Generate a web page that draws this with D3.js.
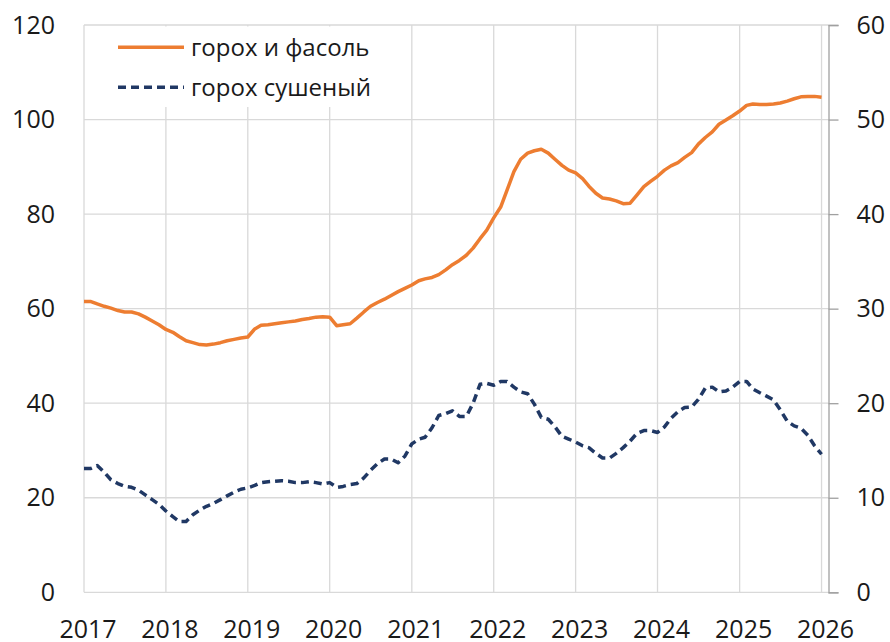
<!DOCTYPE html>
<html>
<head>
<meta charset="utf-8">
<script src="https://cdn.jsdelivr.net/npm/d3@7"></script>
<style>
  html, body { margin: 0; padding: 0; background: #fff; }
  svg { display: block; }
</style>
</head>
<body>
<svg id="chart" width="890" height="642"></svg>
<script>
// ---- DATA (monthly, Jan 2017 – Jan 2026) ----
const startMonth = "2017-01";
const seriesNames = ["горох и фасоль", "горох сушеный"];
// горох и фасоль (left axis)
const peasBeans = [
  61.5, 61.5, 61.0, 60.5, 60.1, 59.6, 59.3, 59.3, 58.9, 58.2, 57.4, 56.6,
  55.6, 55.0, 54.1, 53.2, 52.8, 52.4, 52.3, 52.5, 52.8, 53.2, 53.5, 53.8,
  54.0, 55.7, 56.5, 56.6, 56.8, 57.0, 57.2, 57.4, 57.7, 57.9, 58.2, 58.3,
  58.2, 56.4, 56.6, 56.8, 58.0, 59.3, 60.5, 61.3, 62.0, 62.8, 63.6, 64.3,
  65.0, 65.9, 66.3, 66.6, 67.2, 68.2, 69.3, 70.2, 71.3, 72.8, 74.8, 76.6,
  79.2, 81.5, 85.0, 89.0, 91.6, 92.9, 93.4, 93.7, 92.9, 91.6, 90.3, 89.3,
  88.7, 87.5, 85.9, 84.4, 83.4, 83.2, 82.8, 82.2, 82.3, 84.0, 85.8, 86.9,
  88.0, 89.3, 90.2, 90.9, 92.0, 93.0, 94.8, 96.2, 97.4, 99.0, 99.9, 100.8,
  101.8, 103.0, 103.3, 103.2, 103.2, 103.3, 103.5, 103.9, 104.4, 104.8, 104.9, 104.9,
  104.7
];
// горох сушеный (right axis)
const driedPeas = [
  13.1, 13.1, 13.4, 12.7, 11.9, 11.5, 11.2, 11.1, 10.8, 10.3, 9.8, 9.3,
  8.6, 8.0, 7.5, 7.5, 8.2, 8.7, 9.1, 9.4, 9.8, 10.2, 10.6, 10.9,
  11.05, 11.3, 11.6, 11.7, 11.75, 11.8, 11.75, 11.6, 11.6, 11.7, 11.6, 11.45,
  11.6, 11.1, 11.2, 11.4, 11.5, 12.1, 12.9, 13.6, 14.1, 14.1, 13.7, 14.4,
  15.7, 16.2, 16.4, 17.4, 18.7, 18.9, 19.2, 18.6, 18.6, 20.0, 22.0, 22.1,
  21.9, 22.3, 22.3, 21.7, 21.2, 21.0, 19.9, 18.5, 18.3, 17.5, 16.5, 16.2,
  15.9, 15.5, 15.3, 14.7, 14.2, 14.2, 14.7, 15.3, 16.0, 16.8, 17.1, 17.1,
  16.9, 17.5, 18.4, 19.1, 19.55, 19.6, 20.4, 21.6, 21.7, 21.2, 21.3, 21.7,
  22.3, 22.3, 21.5, 21.1, 20.75, 20.35, 19.3, 18.1, 17.6, 17.35, 16.6, 15.5,
  14.6
];
const yearTicks = [2017, 2018, 2019, 2020, 2021, 2022, 2023, 2024, 2025, 2026];
const leftTicks = [0, 20, 40, 60, 80, 100, 120];
const rightTicks = [0, 10, 20, 30, 40, 50, 60];

// ---- LAYOUT ----
const plot = { left: 84, right: 828.5, top: 25, bottom: 592.3 };
const ORANGE = "#ED7D31";
const NAVY = "#203864";
const GRID = "#d9d9d9";
const FONT = "'Open Sans', 'Noto Sans', sans-serif";

const svg = d3.select("#chart");

const parseMonth = d3.timeParse("%Y-%m");
const t0 = parseMonth(startMonth);
const dates = peasBeans.map((_, i) => d3.timeMonth.offset(t0, i));

const x = d3.scaleTime()
  .domain([t0, d3.timeMonth.offset(t0, 109)])
  .range([plot.left, plot.right]);
const yL = d3.scaleLinear().domain([0, 120]).range([plot.bottom, plot.top]);
const yR = d3.scaleLinear().domain([0, 60]).range([plot.bottom, plot.top]);

const yearDates = yearTicks.map(y => new Date(y, 0, 1));

// gridlines
const grid = svg.append("g");
grid.selectAll("line.h").data(leftTicks).join("line")
  .attr("x1", plot.left).attr("x2", plot.right)
  .attr("y1", d => yL(d)).attr("y2", d => yL(d))
  .attr("stroke", GRID).attr("stroke-width", 1.3);
grid.selectAll("line.v").data(yearDates).join("line")
  .attr("x1", d => x(d)).attr("x2", d => x(d))
  .attr("y1", plot.top).attr("y2", plot.bottom)
  .attr("stroke", GRID).attr("stroke-width", 1.3);

// legend background (covers gridlines)
svg.append("rect")
  .attr("x", 96).attr("y", 26.5).attr("width", 296).attr("height", 80.5)
  .attr("fill", "#fff");

// left axis
const leftAxis = d3.axisLeft(yL).tickValues(leftTicks).tickSize(0).tickPadding(29);
const gL = svg.append("g").attr("transform", `translate(${plot.left},0)`).call(leftAxis);
gL.select(".domain").remove();
gL.selectAll("text").attr("font-family", FONT).attr("font-size", 25).attr("fill", "#1a1a1a");

// right axis
const rightAxis = d3.axisRight(yR).tickValues(rightTicks).tickSize(10).tickPadding(18);
const gR = svg.append("g").attr("transform", `translate(${plot.right},0)`).call(rightAxis);
gR.select(".domain").attr("stroke", "#a0a0a0").attr("stroke-width", 1.3);
gR.selectAll(".tick line").attr("stroke", "#a0a0a0").attr("stroke-width", 1.3);
gR.selectAll("text").attr("font-family", FONT).attr("font-size", 25).attr("fill", "#1a1a1a");

// bottom axis
const bottomAxis = d3.axisBottom(x).tickValues(yearDates).tickSize(0).tickPadding(0)
  .tickFormat(d3.timeFormat("%Y"));
const gB = svg.append("g").attr("transform", `translate(0,${plot.bottom})`).call(bottomAxis);
gB.select(".domain").remove();
gB.selectAll("text").attr("font-family", FONT).attr("font-size", 25).attr("fill", "#1a1a1a")
  .attr("dy", null).attr("y", 46).attr("dx", 3.5);

// lines
const lineL = d3.line().x((d, i) => x(dates[i])).y(d => yL(d));
const lineR = d3.line().x((d, i) => x(dates[i])).y(d => yR(d));

svg.append("path").datum(driedPeas)
  .attr("d", lineR).attr("fill", "none")
  .attr("stroke", NAVY).attr("stroke-width", 3.5)
  .attr("stroke-dasharray", "8,5").attr("stroke-linejoin", "round");

svg.append("path").datum(peasBeans)
  .attr("d", lineL).attr("fill", "none")
  .attr("stroke", ORANGE).attr("stroke-width", 3.5)
  .attr("stroke-linejoin", "round");

// legend
const legend = svg.append("g");
const legendItems = [
  { name: seriesNames[0], color: ORANGE, dash: null, y: 47.3 },
  { name: seriesNames[1], color: NAVY, dash: "8,5", y: 87.3 }
];
legendItems.forEach(it => {
  legend.append("line")
    .attr("x1", 118).attr("x2", 184).attr("y1", it.y).attr("y2", it.y)
    .attr("stroke", it.color).attr("stroke-width", 3.5)
    .attr("stroke-dasharray", it.dash);
  legend.append("text")
    .attr("x", 191).attr("y", it.y + 8.5)
    .attr("font-family", FONT).attr("font-size", 24).attr("fill", "#1a1a1a")
    .text(it.name);
});
</script>
</body>
</html>
